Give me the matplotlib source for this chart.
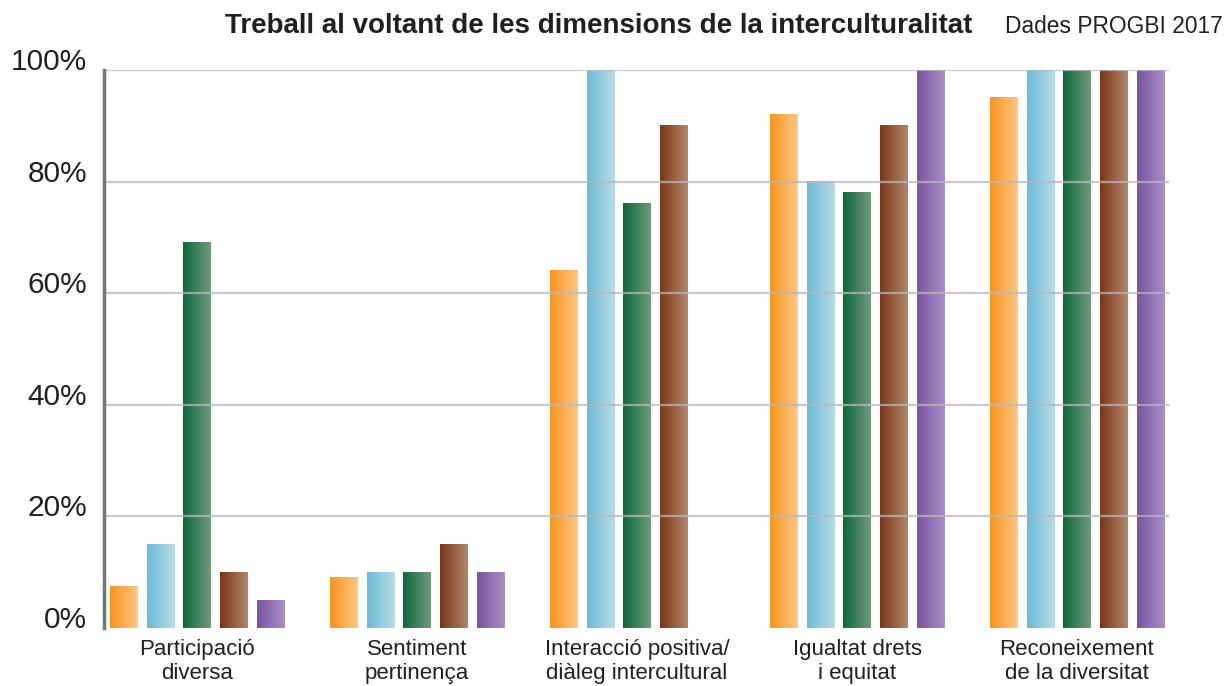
import numpy as np
import matplotlib.pyplot as plt
from matplotlib.colors import LinearSegmentedColormap

plt.rcParams['font.family'] = ['Liberation Sans', 'DejaVu Sans']

# data
categories = ['Participació\ndiversa', 'Sentiment\npertinença', 'Interacció positiva/\ndiàleg intercultural',
              'Igualtat drets\ni equitat', 'Reconeixement\nde la diversitat']
orange = [7.5, 9, 64, 92, 95]
blue = [15, 10, 100, 80, 100]
green = [69, 10, 76, 78, 100]
brown = [10, 15, 90, 90, 100]
purple = [5, 10, 0, 100, 100]
yticks = [0, 20, 40, 60, 80, 100]

series = [orange, blue, green, brown, purple]
grads = [('#F7941D', '#FDC883'), ('#6CBCD4', '#B7DBE8'), ('#0C6A3B', '#70997A'),
         ('#7A3819', '#B2866A'), ('#7A53A1', '#A98FC5')]

fig = plt.figure(figsize=(12.31, 6.86), dpi=100)
ax = fig.add_axes([0.0845, 0.0845, 0.8651, 0.8135])

x = np.arange(len(categories))
width = 0.123
step = 0.168
grad = np.linspace(0, 1, 64).reshape(1, -1)
for i, vals in enumerate(series):
    cmap = LinearSegmentedColormap.from_list('g%d' % i, grads[i])
    bars = ax.bar(x + (i - 2) * step, vals, width, color='none', edgecolor='none')
    for b in bars:
        if b.get_height() <= 0:
            continue
        x0, y0 = b.get_x(), b.get_y()
        ax.imshow(grad, cmap=cmap, aspect='auto', extent=[x0, x0 + b.get_width(), y0, y0 + b.get_height()],
                  zorder=2, interpolation='bilinear')

ax.set_xlim(-0.4227, 4.418)
ax.set_ylim(0, 100)
for y in yticks[1:]:
    ax.axhline(y, color='#B8B8BE', lw=1.6, alpha=0.75, zorder=3)

ax.set_yticks(yticks)
ax.set_yticklabels(['%d%%' % v for v in yticks], fontsize=21.5, color='#231F20', va='baseline')
ax.tick_params(axis='y', length=0, pad=12)
ax.set_xticks(x)
ax.set_xticklabels(categories, fontsize=16, color='#231F20', linespacing=1.2)
ax.tick_params(axis='x', length=0, pad=8)

for s in ['top', 'right', 'bottom']:
    ax.spines[s].set_visible(False)
ax.spines['left'].set_color('#76767E')
ax.spines['left'].set_linewidth(2.5)
ax.spines['left'].set_zorder(4)

fig.text(0.486, 0.952, 'Treball al voltant de les dimensions de la interculturalitat', fontsize=20,
         fontweight='bold', color='#231F20', ha='center', va='baseline')
fig.text(0.993, 0.952, 'Dades PROGBI 2017', fontsize=16.4, color='#231F20', ha='right', va='baseline')

fig.savefig('out.png', dpi=100)
